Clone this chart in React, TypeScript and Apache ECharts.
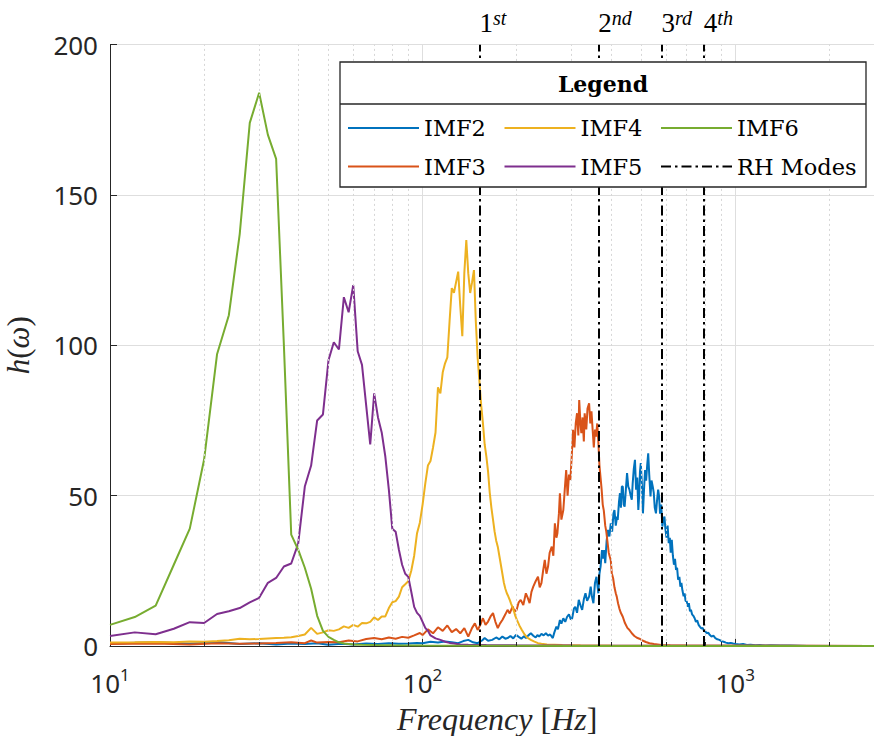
import React, { useEffect, useRef } from 'react';
import * as echarts from 'echarts';

// ---- data: [frequency Hz, h(w)] ----
const imf2: [number, number][] = [
  [10,0.8],[14,1.2],[18,0.7],[22,1.3],[26,0.6],[30,0.9],[34,0.5],[38,0.8],[42,0.6],[46,0.9],[50,0.4],[55,0.7],[60,0.5],[66,0.8],[72,0.6],[78,0.9],[84,0.7],[90,0.8],[96,1],[100,0.9],[106,1.4],[112,1.1],[118,1.5],[124,1.2],[130,0.9],[135,1.6],[140,2],[145,1.2],[150,0.9],[155,1.8],[158,2.6],[162,1.7],[167,2],[172,2.8],[176,2.2],[180,3.1],[184,2.4],[187,2.6],[191,3.3],[195,2.5],[199,3.7],[203,3],[207,2.4],[211,3.2],[214,2.6],[218,3.5],[222,4.2],[226,3.4],[230,2.8],[233,3.6],[236,3.1],[240,4],[244,3.5],[248,4.2],[252,3.4],[256,3.8],[261,2.6],[264,4.5],[268,6.4],[271,5.5],[275,8.6],[278,7.4],[282,9.2],[286,8],[290,9.7],[294,10.5],[298,8.8],[301,9.2],[305,12.5],[308,13],[312,11],[316,15.3],[320,13.5],[324,12],[328,15.5],[332,17.5],[336,15],[341,16.4],[345,19.7],[348,16.5],[352,14.2],[356,20.9],[360,23],[365,17.5],[368,24],[371,26.4],[375,31.9],[378,29],[381,31.9],[384,27.5],[388,35],[392,38.6],[396,36.4],[400,40.8],[404,38],[408,44],[411,45.2],[415,40],[419,43],[421,41.9],[425,48],[428,50.8],[431,46],[434,53],[437,53],[440,47],[443,46.3],[447,52],[451,57.5],[455,53],[459,52],[463,50],[467,48.6],[470,54],[474,59],[478,61.9],[482,52],[486,56],[490,45.2],[493,50],[496,58],[499,60.8],[503,54],[507,44.1],[511,52],[515,58.5],[519,55],[523,60],[527,64.1],[531,57],[536,49.7],[540,55],[545,53],[549,51],[553,46],[558,44.1],[562,48],[567,52],[571,49.7],[575,44],[580,47],[585,39.7],[589,42],[594,43],[598,39],[603,36],[608,40],[613,34.2],[618,36],[622,31],[627,35.3],[632,30],[637,27],[642,29],[647,25.3],[652,26],[657,22],[663,23],[668,19.7],[673,21],[678,18.5],[684,16.5],[689,17.5],[694,15],[700,14.8],[706,13],[711,14.2],[717,11.5],[722,12],[728,10.5],[735,10],[742,9.2],[749,8],[756,8.5],[764,7],[771,6.4],[779,5.8],[787,6],[795,5],[803,4.8],[811,4.2],[820,4.4],[830,3.6],[840,3.1],[852,3.4],[864,2.6],[877,2.2],[890,2],[904,1.6],[918,1.4],[934,1.1],[950,0.9],[968,1],[985,0.8],[1005,0.6],[1030,0.5],[1060,0.6],[1090,0.3],[1120,0.4],[1160,0.2],[1200,0.3],[1250,0.1],[1300,0.2],[1400,0.1],[1500,0.1],[1700,0],[3000,0]
];

const imf3: [number, number][] = [
  [10,0.6],[14,0.8],[18,0.5],[22,0.9],[26,0.7],[30,0.8],[34,1],[38,1.2],[42,0.9],[44,1.8],[46,1.1],[50,1.3],[54,1.2],[58,1.8],[62,1.5],[66,2.3],[70,2.6],[74,2.2],[78,2.8],[82,2.4],[86,3],[90,2.7],[94,3.5],[98,4.3],[100,3.6],[104,5.5],[108,4.2],[112,6.2],[116,5],[120,6.8],[124,4.6],[128,5.6],[132,4.2],[136,5.9],[140,3.1],[144,6],[147,7.5],[150,5.3],[153,7],[156,9.2],[159,7],[162,8.1],[165,9.8],[168,10.9],[171,8],[174,5.9],[177,7.5],[180,8.6],[184,10.5],[187,12],[190,10.8],[194,13.1],[197,11.5],[200,12],[203,14.5],[206,15.3],[210,13.6],[214,17.5],[217,16],[220,14.2],[223,18],[226,19.7],[230,21.5],[234,23],[237,19.5],[240,20.9],[243,25],[246,28.6],[249,24],[252,26.4],[255,31],[259,33],[262,30],[265,40.8],[268,36],[270,37.5],[273,44],[275,50.8],[278,42],[282,45.2],[285,52],[288,58.5],[291,50],[294,57],[297,55.2],[300,63],[303,71.9],[306,66],[309,74],[312,77.4],[315,70],[317,81.8],[320,74],[322,70.8],[325,76],[328,68],[330,77.4],[334,72],[337,79],[341,80.7],[344,74],[347,78],[350,71.9],[353,66],[356,72],[359,69.6],[362,74],[365,68],[368,60],[371,56],[374,52],[377,47],[380,45],[384,40],[387,38],[390,35],[394,31],[397,29.7],[400,28.5],[403,24.2],[407,22.5],[411,19.5],[415,17.5],[418,16.4],[422,14.2],[426,12.5],[430,11.2],[437,9.7],[444,7.6],[452,6],[459,5.3],[467,4.2],[476,3.3],[485,2.7],[494,2.4],[505,1.8],[518,1.3],[532,0.9],[550,0.6],[580,0.3],[620,0.2],[700,0.1],[900,0.05],[3000,0]
];

const imf4: [number, number][] = [
  [10,1.1],[12,1.2],[14,1.3],[16,1.2],[18,1.5],[20,1.4],[22,1.6],[24,1.9],[26,2.4],[28,2.2],[30,2.3],[32,2.5],[34,2.6],[36,2.7],[38,2.9],[40,3.3],[42,3.8],[44,6],[46,4],[48,4.5],[50,5.2],[52,5],[54,5.5],[56,6.5],[58,6],[60,7],[62,6.4],[64,7.6],[66,7.5],[68,8],[70,9.5],[72,8.6],[74,9.8],[76,9.8],[78,12.6],[80,14.5],[82,14.9],[84,16.4],[86,19.5],[88,20.5],[90,21.5],[92,25],[94,30],[96,37.5],[98,41],[100,47],[102,54],[104,60],[106,61.5],[108,66],[110,71],[112,86],[114,84],[116,91],[118,94],[120,96],[122,108],[124,119],[126,117.5],[128,121],[130,124.5],[132,113],[134,103],[136,124],[138,135],[140,124],[142,117.4],[144,121],[146,125],[148,108],[150,96],[152,88],[154,80],[156,74],[158,67],[160,63],[162,58],[164,51],[166,46],[168,42],[170,38],[172,35],[174,33],[176,30],[178,27],[180,24],[182,21],[184,19],[186,17.5],[188,16.5],[190,15.3],[192,14],[194,12.8],[196,11.5],[198,10],[200,8.8],[204,6.8],[208,5.2],[212,3.8],[216,2.8],[222,2],[228,1.4],[234,0.9],[240,0.7],[250,0.5],[280,0.3],[320,0.2],[400,0.1],[3000,0]
];

const imf5: [number, number][] = [
  [10,3.3],[12,4.5],[14,3.9],[16,5.7],[18,7.9],[20,7.6],[22,10.6],[24,11.5],[26,12.6],[28,14.5],[30,16],[32,21],[34,22.6],[36,26.4],[38,27.4],[40,34],[42,53],[44,60],[46,75],[48,77],[50,95],[52,101],[54,98.6],[56,116],[58,111],[60,120],[62,98],[64,93.5],[66,80],[68,67],[70,84],[72,76],[74,71],[76,63],[78,52],[80,39],[82,38],[84,32],[86,27],[88,24],[90,23],[92,18],[94,13],[96,11],[98,10],[100,8],[102,6],[104,5],[106,3.5],[108,3],[110,2.5],[114,2],[118,1.4],[122,1],[126,0.8],[132,0.5],[140,0.4],[160,0.3],[200,0.2],[300,0.1],[3000,0]
];

const imf6: [number, number][] = [
  [10,7],[12,9.6],[14,13.4],[16,27],[18,39],[20,62],[22,97],[24,110],[26,137],[28,174],[30,184],[32,170],[34,162],[36,100],[38,37],[40,32],[42,26],[44,19],[46,10],[48,5],[50,3],[52,2],[54,1.2],[56,0.8],[58,0.6],[60,0.5],[64,0.4],[70,0.3],[80,0.2],[100,0.1],[150,0.05],[300,0],[3000,0]
];

const seriesNames = ['IMF2', 'IMF3', 'IMF4', 'IMF5', 'IMF6'];
const seriesColors = ['#0072BD', '#D95319', '#EDB120', '#7E2F8E', '#77AC30'];
const seriesData = [imf2, imf3, imf4, imf5, imf6];

const rhModeFreqs = [152, 365, 581, 794];
const rhModeLabels = ['1st', '2nd', '3rd', '4th'];

const X_MIN = 10;
const X_MAX = 3000;
const minorGridFreqs = [20, 30, 40, 50, 60, 70, 80, 90, 200, 300, 400, 500, 600, 700, 800, 900, 2000];
const xTickValues = [10, 100, 1000];
const xTickBases = ['10', '10', '10'];
const xTickExps = ['1', '2', '3'];

const legendOrder = ['IMF2', 'IMF4', 'IMF6', 'IMF3', 'IMF5', 'RH Modes'];

const AXIS_COLOR = '#262626';
const DASHDOT = [10, 4, 2.5, 4];

export default function App() {
  const ref = useRef<HTMLDivElement>(null);

  useEffect(() => {
    const chart = echarts.init(ref.current as HTMLDivElement, null, { renderer: 'svg' });

    const dataSeries = seriesData.map((d, i) => ({
      type: 'line',
      name: seriesNames[i],
      data: d,
      symbol: 'none',
      showSymbol: false,
      lineStyle: { color: seriesColors[i], width: 2 },
      itemStyle: { color: seriesColors[i] },
      emphasis: { disabled: true },
      z: 3,
    }));

    const option: any = {
      animation: false,
      grid: { left: 110, top: 44.7, right: -10.3, bottom: 90.1, containLabel: false, outerBoundsMode: 'none' },
      xAxis: {
        type: 'log',
        logBase: 10,
        min: X_MIN,
        max: X_MAX,
        axisLine: { show: true, lineStyle: { color: AXIS_COLOR, width: 1 } },
        axisTick: { show: true, inside: true, length: 7, lineStyle: { color: AXIS_COLOR } },
        axisLabel: {
          showMaxLabel: false,
          margin: 20,
          formatter: (v: number) => {
            const idx = xTickValues.findIndex((t) => Math.abs(t - v) < 1e-6 * t);
            if (idx < 0) return '';
            return `{b|${xTickBases[idx]}}{s|${xTickExps[idx]}}`;
          },
          rich: {
            b: { fontFamily: 'Noto Sans', fontSize: 26, color: AXIS_COLOR, lineHeight: 30, verticalAlign: 'bottom' },
            s: { fontFamily: 'Noto Sans', fontSize: 17, color: AXIS_COLOR, lineHeight: 12, verticalAlign: 'top' },
          },
        },
        splitLine: { show: true, lineStyle: { color: '#dedede', width: 1 } },
        name: '{i|Frequency }{r|[}{i|Hz}{r|]}',
        nameLocation: 'middle',
        nameGap: 58,
        nameTextStyle: {
          lineHeight: 30,
          rich: {
            i: { fontFamily: 'Liberation Serif', fontStyle: 'italic', fontSize: 32, lineHeight: 30, color: AXIS_COLOR },
            r: { fontFamily: 'Liberation Serif', fontSize: 32, lineHeight: 30, color: AXIS_COLOR },
          },
        },
      },
      yAxis: {
        type: 'value',
        min: 0,
        max: 200,
        interval: 50,
        axisLine: { show: true, lineStyle: { color: AXIS_COLOR, width: 1 } },
        axisTick: { show: true, inside: true, length: 7, lineStyle: { color: AXIS_COLOR } },
        axisLabel: { color: AXIS_COLOR, fontFamily: 'Noto Sans', fontSize: 26, margin: 12 },
        splitLine: { show: true, lineStyle: { color: '#dedede', width: 1 } },
        name: '{i|h}{r|(}{i|ω}{r|)}',
        nameLocation: 'middle',
        nameGap: 76,
        nameTextStyle: {
          rich: {
            i: { fontFamily: 'Liberation Serif', fontStyle: 'italic', fontSize: 31, color: AXIS_COLOR },
            r: { fontFamily: 'Liberation Serif', fontSize: 31, color: AXIS_COLOR },
          },
        },
      },
      legend: {
        data: legendOrder,
        left: 347,
        top: 112.5,
        width: 560,
        padding: 0,
        itemGap: 7.5,
        itemWidth: 71,
        itemHeight: 14,
        selectedMode: false,
        z: 20,
        itemStyle: { opacity: 0 },
        textStyle: { fontFamily: 'DejaVu Serif', fontSize: 22.5, color: '#000', lineHeight: 31, width: 72 },
      },
      graphic: [
        {
          type: 'rect',
          z: 15,
          shape: { x: 340, y: 62, width: 526, height: 125 },
          style: { fill: '#ffffff', stroke: AXIS_COLOR, lineWidth: 1.3 },
        },
        {
          type: 'line',
          z: 16,
          shape: { x1: 340, y1: 104, x2: 866, y2: 104 },
          style: { stroke: AXIS_COLOR, lineWidth: 1.3 },
        },
        {
          type: 'text',
          z: 16,
          x: 603,
          y: 84,
          style: {
            text: 'Legend',
            fontFamily: 'DejaVu Serif',
            fontWeight: 'bold',
            fontSize: 22,
            fill: '#000',
            align: 'center',
            verticalAlign: 'middle',
            textAlign: 'center',
            textVerticalAlign: 'middle',
          },
        },
      ],
      series: [
        {
          type: 'line',
          name: '_minorGrid',
          data: [],
          symbol: 'none',
          silent: true,
          z: 1,
          markLine: {
            silent: true,
            symbol: ['none', 'none'],
            label: { show: false },
            lineStyle: { color: '#d6d6d6', width: 1, type: [2, 3] },
            emphasis: { disabled: true },
            data: minorGridFreqs.map((f) => ({ xAxis: f })),
          },
        },
        {
          type: 'line',
          name: '_minorTicks',
          data: [],
          symbol: 'none',
          silent: true,
          z: 5,
          markLine: {
            silent: true,
            symbol: ['none', 'none'],
            label: { show: false },
            lineStyle: { color: AXIS_COLOR, width: 1, type: 'solid' },
            emphasis: { disabled: true },
            data: minorGridFreqs.map((f) => [{ coord: [f, 0] }, { coord: [f, 1.3] }]),
          },
        },
        ...dataSeries,
        {
          type: 'line',
          name: 'RH Modes',
          data: [],
          symbol: 'none',
          lineStyle: { color: '#000', width: 2, type: DASHDOT },
          itemStyle: { color: '#000' },
          z: 4,
          markLine: {
            silent: true,
            symbol: ['none', 'none'],
            lineStyle: { color: '#000', width: 2, type: DASHDOT },
            emphasis: { disabled: true },
            label: {
              show: true,
              position: 'end',
              align: 'left',
              distance: 8,
              color: '#000',
              formatter: (p: any) => `{n|${p.name.slice(0, 1)}}{s|${p.name.slice(1)}}`,
              rich: {
                n: { fontFamily: 'Liberation Serif', fontSize: 27, color: '#000', lineHeight: 29, verticalAlign: 'bottom' },
                s: { fontFamily: 'Liberation Serif', fontStyle: 'italic', fontSize: 20, color: '#000', lineHeight: 16, verticalAlign: 'top' },
              },
            },
            data: rhModeFreqs.map((f, i) => ({ xAxis: f, name: rhModeLabels[i] })),
          },
        },
      ],
    };

    chart.setOption(option);
    return () => chart.dispose();
  }, []);

  return <div ref={ref} style={{ position: 'absolute', left: 0, top: 0, width: 874, height: 736 }} />;
}
